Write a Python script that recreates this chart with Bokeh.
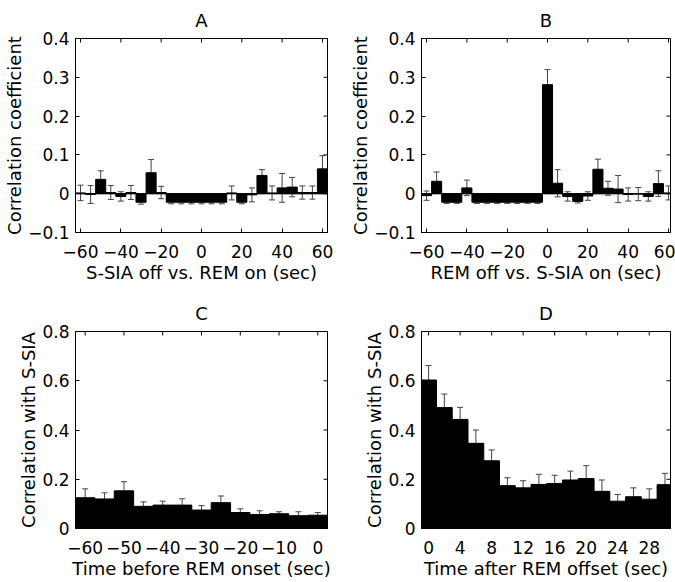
import math
from bokeh.plotting import figure
from bokeh.models import (ColumnDataSource, Whisker, TeeHead, Range1d,
                          FixedTicker, Span)
from bokeh.layouts import column, row
from bokeh.embed import file_html
from bokeh.resources import INLINE

FONT = "DejaVu Sans"
ECOL = "#444444"

# ---------------- data ----------------
# Panel A: S-SIA off vs. REM on (5-s bins)
a_x = [-60, -55, -50, -45, -40, -35, -30, -25, -20, -15, -10, -5, 0,
       5, 10, 15, 20, 25, 30, 35, 40, 45, 50, 55, 60]
a_val = [0.002, -0.002, 0.037, 0.003, -0.007, 0.003, -0.022, 0.054, 0.003,
         -0.022, -0.022, -0.022, -0.022, -0.022, -0.022, 0.002, -0.022,
         -0.003, 0.047, 0.002, 0.015, 0.017, 0.003, 0.003, 0.064]
a_err = [0.020, 0.023, 0.022, 0.018, 0.012, 0.018, 0.005, 0.034, 0.016,
         0.004, 0.004, 0.004, 0.004, 0.004, 0.004, 0.018, 0.004,
         0.018, 0.015, 0.018, 0.037, 0.025, 0.017, 0.017, 0.034]

# Panel B: REM off vs. S-SIA on (5-s bins)
b_x = [-60, -55, -50, -45, -40, -35, -30, -25, -20, -15, -10, -5, 0,
       5, 10, 15, 20, 25, 30, 35, 40, 45, 50, 55, 60]
b_val = [-0.005, 0.032, -0.022, -0.022, 0.015, -0.022, -0.022, -0.022,
         -0.022, -0.022, -0.022, -0.022, 0.281, 0.027, -0.007, -0.020,
         -0.006, 0.063, 0.014, 0.012, -0.002, -0.001, -0.007, 0.026, 0.002]
b_err = [0.012, 0.024, 0.003, 0.003, 0.020, 0.003, 0.003, 0.003,
         0.003, 0.003, 0.003, 0.003, 0.039, 0.035, 0.012, 0.004,
         0.011, 0.026, 0.018, 0.035, 0.017, 0.017, 0.012, 0.033, 0.018]

# Panel C: time before REM onset (5-s bins)
c_x = [-60, -55, -50, -45, -40, -35, -30, -25, -20, -15, -10, -5, 0]
c_val = [0.125, 0.120, 0.153, 0.090, 0.095, 0.095, 0.075, 0.105, 0.065,
         0.057, 0.060, 0.052, 0.054]
c_err = [0.036, 0.025, 0.037, 0.018, 0.016, 0.026, 0.018, 0.027, 0.015,
         0.015, 0.008, 0.016, 0.011]

# Panel D: time after REM offset (2-s bins)
d_x = [0, 2, 4, 6, 8, 10, 12, 14, 16, 18, 20, 22, 24, 26, 28, 30]
d_val = [0.603, 0.491, 0.443, 0.346, 0.275, 0.174, 0.165, 0.179, 0.183,
         0.197, 0.203, 0.151, 0.111, 0.129, 0.119, 0.178]
d_err = [0.059, 0.055, 0.049, 0.054, 0.044, 0.032, 0.029, 0.041, 0.033,
         0.036, 0.052, 0.046, 0.027, 0.036, 0.042, 0.046]

ab_yticks = [-0.1, 0, 0.1, 0.2, 0.3, 0.4]
cd_yticks = [0, 0.2, 0.4, 0.6, 0.8]
ab_xticks = [-60, -40, -20, 0, 20, 40, 60]
c_xticks = [-60, -50, -40, -30, -20, -10, 0]
d_xticks = [0, 4, 8, 12, 16, 20, 24, 28]


def style_axis(ax, ticks):
    ax.ticker = FixedTicker(ticks=ticks)
    ax.major_tick_in = 4
    ax.major_tick_out = 0
    ax.minor_tick_line_color = None
    ax.axis_line_color = "black"
    ax.major_tick_line_color = "black"
    ax.major_label_text_font = FONT
    ax.major_label_text_color = "black"
    ax.major_label_text_font_size = "17px"
    ax.major_label_standoff = 6
    ax.major_label_overrides = {0: "0"}
    ax.axis_label_text_font = FONT
    ax.axis_label_text_font_size = "18px"
    ax.axis_label_text_font_style = "normal"
    ax.axis_label_text_color = "black"


def panel(title, xs, vals, errs, xr, yr, xticks, yticks, xlabel, ylabel,
          width, height, lb, rb, tb, bb, barw, baseline):
    p = figure(width=width, height=height, x_range=Range1d(*xr),
               y_range=Range1d(*yr), output_backend="svg",
               toolbar_location=None, min_border_left=lb,
               min_border_right=rb, min_border_top=tb, min_border_bottom=bb,
               title=title)
    p.grid.visible = False
    p.outline_line_color = "black"
    p.outline_line_alpha = 1.0
    p.background_fill_color = "white"
    p.border_fill_color = "white"

    p.title.text_font = FONT
    p.title.text_font_size = "18px"
    p.title.text_font_style = "normal"
    p.title.align = "center"
    p.title.text_color = "black"
    p.title.standoff = 15

    xa = p.below[0]
    ya = p.left[0]
    style_axis(xa, xticks)
    style_axis(ya, yticks)
    xa.axis_label = xlabel
    ya.axis_label = ylabel
    xa.major_label_standoff = 12
    xa.axis_label_standoff = 1
    ya.axis_label_standoff = 0

    # inward tick marks on the top and right edges of the box (as in MATLAB)
    p.ray(x=xticks, y=[yr[1]] * len(xticks), length=4, length_units="screen",
          angle=-math.pi / 2, line_color="black", line_width=1)
    p.ray(x=[xr[1]] * len(yticks), y=yticks, length=4, length_units="screen",
          angle=math.pi, line_color="black", line_width=1)

    src = ColumnDataSource(dict(
        x=xs, v=vals,
        up=[v + e for v, e in zip(vals, errs)],
        lo=[v - e for v, e in zip(vals, errs)]))
    w = Whisker(base="x", upper="up", lower="lo", source=src,
                line_color=ECOL, line_width=1,
                upper_head=TeeHead(size=6, line_color=ECOL, line_width=1),
                lower_head=TeeHead(size=6, line_color=ECOL, line_width=1))
    w.level = "underlay"
    p.add_layout(w)
    p.vbar(x="x", top="v", bottom=0, width=barw, source=src,
           fill_color="black", line_color="black", line_width=1)
    if baseline:
        p.add_layout(Span(location=0, dimension="width",
                          line_color="black", line_width=1))
    return p


pa = panel("A", a_x, a_val, a_err, (-62.5, 62.5), (-0.1, 0.4), ab_xticks,
           ab_yticks, "S-SIA off vs. REM on (sec)", "Correlation coefficient",
           333, 290, 75, 6, 38, 58, 5, True)
pb = panel("B", b_x, b_val, b_err, (-62.5, 61.0), (-0.1, 0.4), ab_xticks,
           ab_yticks, "REM off vs. S-SIA on (sec)", "Correlation coefficient",
           342, 290, 88, 5, 38, 58, 5, True)
pc = panel("C", c_x, c_val, c_err, (-62.5, 2.5), (0, 0.8), c_xticks,
           cd_yticks, "Time before REM onset (sec)", "Correlation with S-SIA",
           333, 292, 75, 6, 41, 54, 5, False)
pd_ = panel("D", d_x, d_val, d_err, (-0.9, 30.7), (0, 0.8), d_xticks,
            cd_yticks, "Time after REM offset (sec)", "Correlation with S-SIA",
            342, 292, 88, 5, 41, 54, 2, False)

layout = column(row(pa, pb), row(pc, pd_))

open("out.html", "w").write(file_html(layout, INLINE))
